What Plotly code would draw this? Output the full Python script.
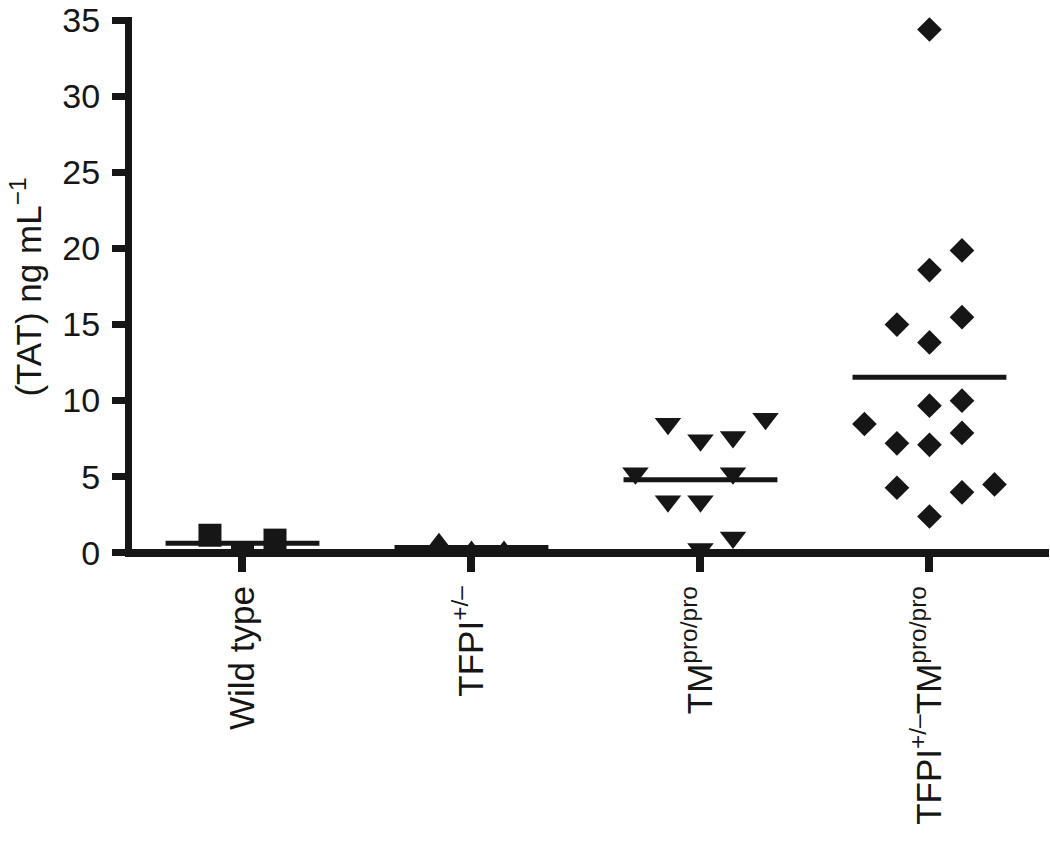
import plotly.graph_objects as go

# ---- data ----
categories = ["Wild type", "TFPI<sup>+/–</sup>", "TM<sup>pro/pro</sup>", "TFPI<sup>+/–</sup>TM<sup>pro/pro</sup>"]

wt_values = [1.15, 0.0, 0.83]
wt_cols = [-1, 0, 1]

tfpi_values = [0.55, 0.05, 0.05]
tfpi_cols = [-1, 0, 1]

tm_values = [8.47, 7.39, 7.61, 8.80, 5.22, 5.22, 3.39, 3.39, 0.24, 1.00]
tm_cols = [-1, 0, 1, 2, -2, 1, -1, 0, 0, 1]

dko_values = [34.38, 19.86, 18.57, 14.99, 15.48, 13.82, 9.66, 9.99,
              8.46, 7.19, 7.09, 7.87, 4.27, 3.97, 4.49, 2.38]
dko_cols = [0, 1, 0, -1, 1, 0, 0, 1, -2, -1, 0, 1, -1, 1, 2, 0]

group_means = [0.63, 0.34, 4.79, 11.53]

y_ticks = [0, 5, 10, 15, 20, 25, 30, 35]

# ---- styling ----
INK = "#161616"
FONT = "Liberation Sans, Arial, Helvetica, sans-serif"
COL_STEP = 0.142
MEAN_HALF = 0.336

groups = [
    (wt_values, wt_cols, "square", 23),
    (tfpi_values, tfpi_cols, "triangle-up", 23),
    (tm_values, tm_cols, "triangle-down", 23),
    (dko_values, dko_cols, "diamond", 19),
]

fig = go.Figure()

for gi, (vals, cols, sym, size) in enumerate(groups):
    xs = [gi + c * COL_STEP for c in cols]
    fig.add_trace(go.Scatter(
        x=xs, y=vals, mode="markers",
        marker=dict(symbol=sym, size=size, color=INK, line=dict(width=0)),
        showlegend=False, hoverinfo="y",
    ))
    m = group_means[gi]
    fig.add_trace(go.Scatter(
        x=[gi - MEAN_HALF, gi + MEAN_HALF], y=[m, m], mode="lines",
        line=dict(color=INK, width=5),
        showlegend=False, hoverinfo="skip",
    ))

fig.update_layout(
    width=1050, height=845,
    margin=dict(l=132, r=1, t=11, b=288),
    paper_bgcolor="white", plot_bgcolor="white",
    font=dict(family=FONT, color=INK),
    xaxis=dict(
        range=[-0.4825, 3.522],
        anchor="free", position=0.0073,
        tickmode="array", tickvals=[0, 1, 2, 3], ticktext=categories,
        tickangle=-90, tickfont=dict(size=35, family=FONT, color=INK),
        ticks="outside", ticklen=15, tickwidth=8, tickcolor=INK,
        ticklabelstandoff=0, ticklabeloverflow="allow",
        showline=True, linewidth=8, linecolor=INK,
        showgrid=False, zeroline=False, layer="above traces",
    ),
    yaxis=dict(
        range=[-0.28, 35.2],
        tickmode="array", tickvals=y_ticks,
        tickfont=dict(size=34, family=FONT, color=INK),
        ticks="outside", ticklen=13, tickwidth=7, tickcolor=INK,
        ticklabelstandoff=5, ticklabeloverflow="allow",
        showline=True, linewidth=7, linecolor=INK,
        showgrid=False, zeroline=False, layer="above traces",
        title=dict(text="(TAT) ng mL<sup>−1</sup>", font=dict(size=35, family=FONT, color=INK), standoff=13),
    ),
)

fig.write_html(
    "out.html",
    config={"displayModeBar": False},
    post_script="document.body.style.margin='0';document.body.style.padding='0';",
)
